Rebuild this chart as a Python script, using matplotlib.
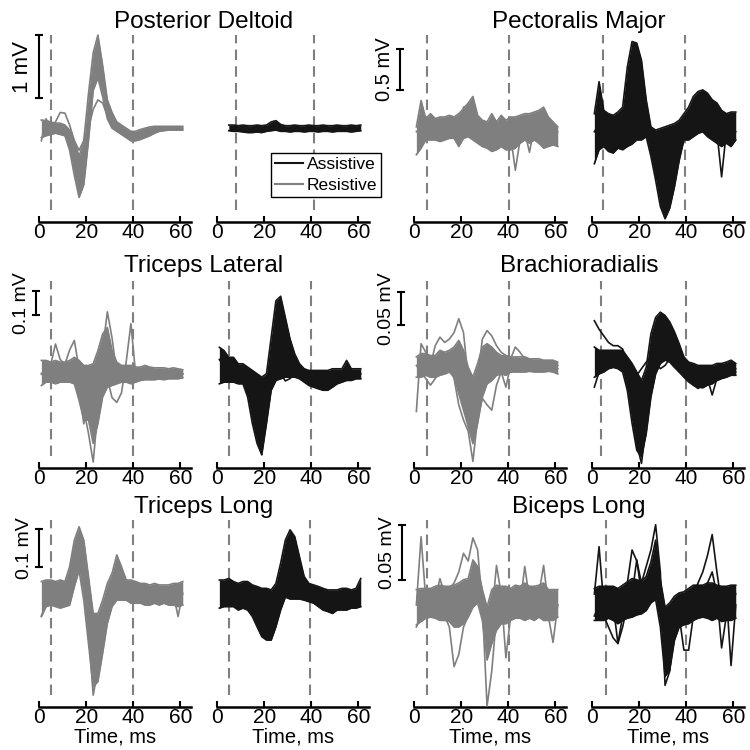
import matplotlib.pyplot as plt
from matplotlib.lines import Line2D

plt.rcParams['font.family'] = ['Liberation Sans', 'DejaVu Sans']

nan = float('nan')

# sample times, ms
t_ms = [1, 3, 5, 7, 9, 11, 13, 15, 17, 19, 21, 23, 25, 27, 29, 31,
        33, 35, 37, 39, 41, 43, 45, 47, 49, 51, 53, 55, 57, 59, 61]

muscles = ['Posterior Deltoid', 'Pectoralis Major', 'Triceps Lateral',
           'Brachioradialis', 'Triceps Long', 'Biceps Long']
bar_mv = [1, 0.5, 0.1, 0.05, 0.1, 0.05]
bar_text = ['1 mV', '0.5 mV', '0.1 mV', '0.05 mV', '0.1 mV', '0.05 mV']

# envelopes of the overlaid traces (mV) + a few stray traces
# Posterior Deltoid
pd_res_hi = [0.13, 0.12, 0.1, 0.08, 0.08, 0.05, -0.03, -0.2, -0.45, -0.2, 0.55, 1.2, 1.48, 1.0, 0.45, 0.25,
             0.1, 0.05, 0.0, -0.05, -0.05, -0.02, 0.0, 0.02, 0.03, 0.03, 0.03, 0.03, 0.03, 0.03, 0.03]
pd_res_lo = [-0.15, -0.12, -0.1, -0.08, -0.1, -0.12, -0.35, -0.75, -1.1, -0.9, -0.2, 0.6, 0.8, 0.5, 0.15, 0.0,
             -0.05, -0.1, -0.15, -0.2, -0.2, -0.18, -0.15, -0.12, -0.08, -0.05, -0.04, -0.03, -0.03, -0.03, -0.03]
pd_res_x1 = [-0.2, 0.15, 0.0, 0.1, 0.25, 0.24, 0.05, -0.2, -0.35, -0.2, 0.0, 0.3, 0.45, 0.4, 0.2, 0.08,
             0.0, -0.05, -0.1, -0.15, -0.12, -0.05, -0.02, 0.0, 0.0, 0.0, 0.0, 0.0, 0.0, 0.0, 0.0]
pd_ast_hi = [nan, nan, 0.05, 0.05, 0.04, 0.05, 0.04, 0.04, 0.05, 0.04, 0.05, 0.1, 0.12, 0.06, 0.04, 0.04,
             0.05, 0.04, 0.04, 0.05, 0.04, 0.04, 0.05, 0.04, 0.04, 0.05, 0.04, 0.04, 0.05, 0.04, 0.05]
pd_ast_lo = [nan, nan, -0.04, -0.05, -0.05, -0.06, -0.07, -0.07, -0.06, -0.07, -0.05, -0.04, -0.03, -0.05, -0.05, -0.06,
             -0.05, -0.05, -0.06, -0.05, -0.05, -0.06, -0.05, -0.05, -0.06, -0.05, -0.05, -0.05, -0.06, -0.05, -0.04]

# Pectoralis Major
pm_res_hi = [0.06, 0.38, 0.16, 0.22, 0.16, 0.18, 0.18, 0.2, 0.18, 0.22, 0.28, 0.35, 0.43, 0.2, 0.14, 0.12,
             0.22, 0.12, 0.2, 0.14, 0.18, 0.18, 0.2, 0.22, 0.22, 0.24, 0.26, 0.3, 0.18, 0.12, 0.06]
pm_res_lo = [-0.28, -0.2, -0.1, -0.1, -0.1, -0.12, -0.1, -0.08, -0.08, -0.18, -0.08, -0.06, -0.1, -0.14, -0.18, -0.2,
             -0.24, -0.22, -0.18, -0.22, -0.22, -0.2, -0.14, -0.1, -0.14, -0.1, -0.14, -0.2, -0.18, -0.16, -0.18]
pm_res_x1 = [0.0, 0.05, 0.0, 0.05, 0.0, 0.02, 0.0, 0.05, 0.0, -0.05, 0.3, 0.32, 0.1, 0.0, -0.05, -0.1,
             -0.05, -0.1, 0.0, -0.1, -0.05, -0.47, -0.1, 0.0, -0.25, 0.05, 0.0, 0.05, 0.0, -0.05, 0.0]
pm_ast_hi = [0.22, 0.61, 0.26, 0.22, 0.2, 0.24, 0.3, 0.79, 1.1, 1.08, 0.87, 0.39, 0.06, 0.02, 0.04, 0.06,
             0.08, 0.1, 0.14, 0.22, 0.3, 0.43, 0.49, 0.51, 0.47, 0.39, 0.35, 0.26, 0.22, 0.24, 0.24]
pm_ast_lo = [-0.39, -0.22, -0.18, -0.24, -0.26, -0.2, -0.22, -0.18, -0.15, -0.1, -0.1, -0.06, -0.3, -0.59, -0.91, -1.06,
             -0.93, -0.67, -0.35, -0.1, -0.1, -0.06, -0.02, 0.0, -0.06, -0.1, -0.14, -0.18, -0.14, -0.18, -0.1]
pm_ast_x1 = [0.0, 0.1, 0.0, 0.05, 0.0, -0.1, 0.0, 0.4, 0.6, 0.5, 0.3, 0.0, -0.2, -0.4, -0.6, -0.7,
             -0.5, -0.2, 0.0, 0.1, 0.2, 0.3, 0.35, 0.3, 0.2, 0.1, 0.0, -0.55, 0.0, 0.05, 0.0]

# Triceps Lateral
tl_res_hi = [0.056, 0.056, 0.049, 0.056, 0.049, 0.049, 0.056, 0.069, 0.056, 0.035, 0.035, 0.042, 0.097, 0.167, 0.194, 0.097,
             0.049, 0.035, 0.035, 0.035, 0.028, 0.028, 0.035, 0.028, 0.025, 0.025, 0.025, 0.021, 0.025, 0.021, 0.017]
tl_res_lo = [-0.049, -0.035, -0.035, -0.042, -0.035, -0.035, -0.035, -0.042, -0.111, -0.194, -0.194, -0.292, -0.208, -0.097, -0.056, -0.049,
             -0.042, -0.035, -0.035, -0.042, -0.035, -0.028, -0.025, -0.025, -0.025, -0.022, -0.025, -0.021, -0.021, -0.021, -0.017]
tl_res_x1 = [0.0, -0.02, 0.04, 0.125, 0.06, 0.04, 0.1, 0.14, 0.02, -0.15, -0.25, -0.37, -0.15, 0.1, 0.26, 0.15,
             0.0, 0.02, 0.01, 0.0, 0.0, 0.0, 0.0, 0.0, 0.0, 0.0, 0.0, 0.0, 0.0, 0.0, 0.0]
tl_res_x2 = [0.0, 0.02, 0.0, 0.01, 0.0, 0.0, 0.0, 0.0, -0.05, -0.21, -0.1, -0.15, -0.05, 0.05, -0.02, -0.1,
             -0.12, -0.08, 0.05, 0.21, 0.0, 0.0, 0.0, 0.0, 0.0, 0.0, 0.0, 0.0, 0.0, 0.0, 0.0]
tl_ast_hi = [0.111, 0.097, 0.069, 0.069, 0.042, 0.042, 0.028, 0.014, 0.0, -0.014, 0.0, 0.153, 0.306, 0.325, 0.236, 0.146,
             0.083, 0.042, 0.021, 0.014, 0.014, 0.014, 0.014, 0.014, 0.021, 0.021, 0.021, 0.056, 0.021, 0.021, 0.021]
tl_ast_lo = [-0.042, -0.035, -0.035, -0.035, -0.042, -0.042, -0.097, -0.208, -0.292, -0.34, -0.208, -0.069, -0.028, -0.021, -0.014, -0.014,
             -0.014, -0.021, -0.035, -0.049, -0.056, -0.063, -0.069, -0.069, -0.056, -0.042, -0.035, -0.028, -0.028, -0.021, -0.021]
tl_ast_x1 = [0.06, 0.03, 0.0, 0.03, 0.0, -0.02, -0.03, -0.05, -0.06, -0.04, -0.02, 0.02, 0.04, 0.0, -0.03, -0.02,
             0.0, 0.0, -0.01, -0.02, -0.03, -0.04, -0.05, -0.05, -0.04, -0.03, -0.02, -0.01, -0.01, 0.0, 0.0]

# Brachioradialis
br_res_hi = [0.013, 0.018, 0.018, 0.015, 0.015, 0.023, 0.02, 0.023, 0.028, 0.038, 0.023, -0.003, -0.018, 0.003, 0.028, 0.033,
             0.028, 0.02, 0.015, 0.015, 0.013, 0.013, 0.013, 0.013, 0.01, 0.01, 0.01, 0.008, 0.008, 0.008, 0.005]
br_res_lo = [-0.018, -0.018, -0.015, -0.018, -0.018, -0.015, -0.013, -0.01, -0.018, -0.043, -0.068, -0.093, -0.119, -0.088, -0.048, -0.028,
             -0.023, -0.015, -0.013, -0.015, -0.01, -0.01, -0.01, -0.01, -0.009, -0.01, -0.01, -0.01, -0.009, -0.01, -0.013]
br_res_x1 = [-0.07, 0.033, 0.02, 0.0, 0.03, 0.043, 0.035, 0.04, 0.05, 0.071, 0.05, -0.02, -0.08, -0.02, 0.04, 0.053,
             0.045, 0.03, 0.02, 0.015, 0.01, 0.028, 0.02, 0.01, 0.01, 0.005, 0.005, 0.005, 0.0, 0.005, 0.0]
br_res_x2 = [0.0, -0.01, -0.02, -0.03, -0.02, -0.01, 0.0, 0.0, -0.02, -0.06, -0.083, -0.1, -0.146, -0.08, -0.05, -0.06,
             -0.068, -0.03, -0.01, -0.033, 0.0, -0.005, -0.01, -0.005, 0.0, -0.005, 0.0, 0.0, -0.005, 0.0, -0.005]
br_ast_hi = [0.028, 0.023, 0.023, 0.023, 0.023, 0.023, 0.023, 0.013, 0.003, -0.01, -0.023, -0.003, 0.048, 0.073, 0.081, 0.076,
             0.066, 0.051, 0.033, 0.013, 0.005, 0.003, 0.0, 0.0, 0.0, 0.0, 0.003, 0.003, 0.005, 0.008, 0.003]
br_ast_lo = [-0.018, -0.013, -0.01, -0.005, -0.003, -0.005, -0.01, -0.038, -0.088, -0.129, -0.139, -0.104, -0.048, -0.013, 0.003, 0.008,
             0.005, -0.003, -0.01, -0.018, -0.025, -0.03, -0.033, -0.034, -0.03, -0.028, -0.023, -0.02, -0.018, -0.015, -0.015]
br_ast_x1 = [0.068, 0.055, 0.045, 0.035, 0.03, 0.03, 0.025, 0.0, -0.06, -0.12, -0.149, -0.09, -0.01, 0.04, 0.06, 0.05,
             0.03, 0.015, 0.0, -0.01, -0.02, -0.03, -0.035, -0.03, -0.02, -0.045, -0.02, -0.015, -0.01, -0.01, -0.005]
br_ast_x2 = [-0.033, -0.01, 0.0, 0.01, 0.005, 0.0, 0.0, -0.01, -0.02, -0.015, -0.005, 0.005, 0.01, 0.005, -0.005, 0.0,
             0.01, 0.0, -0.01, -0.015, -0.02, -0.025, -0.03, -0.03, -0.025, -0.02, -0.015, -0.01, -0.01, -0.01, -0.01]

# Triceps Long
tlo_res_hi = [0.031, 0.035, 0.035, 0.031, 0.035, 0.031, 0.07, 0.14, 0.175, 0.14, 0.044, -0.053, -0.053, -0.018, 0.026, 0.053,
              0.101, 0.07, 0.035, 0.035, 0.031, 0.026, 0.026, 0.022, 0.026, 0.022, 0.022, 0.022, 0.026, 0.026, 0.031]
tlo_res_lo = [-0.061, -0.035, -0.031, -0.035, -0.039, -0.035, -0.031, 0.018, 0.06, -0.018, -0.132, -0.246, -0.232, -0.158, -0.079, -0.035,
              -0.018, -0.018, -0.018, -0.026, -0.026, -0.026, -0.031, -0.031, -0.026, -0.031, -0.026, -0.031, -0.031, -0.035, -0.031]
tlo_res_x1 = [-0.06, -0.03, 0.0, 0.02, 0.0, 0.01, 0.05, 0.12, 0.16, 0.1, -0.1, -0.268, -0.2, -0.1, -0.03, 0.0,
              0.08, 0.05, 0.02, 0.0, 0.0, 0.0, 0.0, 0.0, 0.0, 0.0, 0.0, 0.0, 0.0, -0.061, 0.0]
tlo_ast_hi = [0.035, 0.035, 0.039, 0.031, 0.026, 0.031, 0.031, 0.022, 0.018, 0.013, 0.013, 0.009, 0.026, 0.079, 0.14, 0.167,
              0.149, 0.096, 0.044, 0.026, 0.022, 0.018, 0.013, 0.009, 0.009, 0.009, 0.013, 0.013, 0.009, 0.013, 0.039]
tlo_ast_lo = [-0.039, -0.035, -0.035, -0.035, -0.044, -0.039, -0.044, -0.061, -0.088, -0.114, -0.123, -0.123, -0.088, -0.044, -0.01, -0.015,
              -0.015, -0.015, -0.018, -0.022, -0.026, -0.035, -0.044, -0.048, -0.053, -0.044, -0.044, -0.044, -0.039, -0.039, -0.035]

# Biceps Long
bl_res_hi = [0.014, 0.015, 0.015, 0.015, 0.017, 0.018, 0.017, 0.017, 0.018, 0.02, 0.023, 0.024, 0.041, 0.035, 0.014, -0.002,
             0.014, 0.018, 0.017, 0.017, 0.015, 0.018, 0.017, 0.02, 0.017, 0.017, 0.018, 0.02, 0.014, 0.014, 0.014]
bl_res_lo = [-0.018, -0.015, -0.012, -0.011, -0.012, -0.014, -0.014, -0.015, -0.02, -0.02, -0.017, -0.011, -0.002, 0.002, -0.014, -0.05,
             -0.035, -0.023, -0.017, -0.017, -0.014, -0.012, -0.012, -0.014, -0.012, -0.014, -0.011, -0.014, -0.014, -0.014, -0.011]
bl_res_x1 = [0.0, 0.062, 0.005, 0.01, 0.005, 0.024, 0.01, 0.015, 0.02, 0.03, 0.047, 0.04, 0.061, 0.05, 0.0, -0.092,
             -0.06, -0.01, 0.0, 0.005, 0.01, 0.005, 0.0, 0.035, 0.005, 0.0, 0.01, 0.036, 0.0, 0.005, 0.0]
bl_res_x2 = [-0.02, -0.01, 0.0, -0.01, -0.005, 0.0, -0.01, -0.02, -0.056, -0.045, -0.02, -0.01, 0.01, 0.02, 0.0, -0.03,
             -0.01, 0.036, 0.01, -0.048, -0.01, 0.0, 0.005, 0.0, -0.005, 0.0, 0.005, 0.0, -0.01, -0.034, 0.0]
bl_ast_hi = [0.015, 0.017, 0.017, 0.017, 0.017, 0.015, 0.018, 0.021, 0.024, 0.023, 0.021, 0.026, 0.039, 0.059, 0.023, -0.002,
             0.002, 0.008, 0.011, 0.012, 0.015, 0.018, 0.018, 0.018, 0.02, 0.02, 0.018, 0.017, 0.017, 0.018, 0.018]
bl_ast_lo = [-0.014, -0.014, -0.014, -0.012, -0.014, -0.017, -0.014, -0.012, -0.011, -0.009, -0.008, -0.005, 0.002, 0.005, -0.02, -0.065,
             -0.059, -0.032, -0.02, -0.018, -0.017, -0.014, -0.012, -0.011, -0.012, -0.014, -0.012, -0.015, -0.014, -0.014, -0.012]
bl_ast_x1 = [0.01, 0.053, 0.0, 0.01, 0.0, -0.035, -0.01, 0.02, 0.05, 0.04, 0.02, 0.035, 0.05, 0.073, 0.03, -0.073,
             -0.06, -0.01, 0.01, 0.0, 0.005, 0.01, 0.02, 0.03, 0.045, 0.064, 0.03, 0.0, 0.01, -0.055, 0.0]
bl_ast_x2 = [-0.01, 0.0, -0.01, -0.02, -0.03, -0.035, -0.02, 0.0, 0.01, 0.041, 0.01, 0.0, 0.02, 0.04, 0.0, -0.05,
             -0.04, -0.02, -0.01, -0.041, -0.041, -0.01, 0.0, 0.01, 0.02, 0.03, 0.01, -0.039, -0.01, 0.0, 0.01]

res_hi = [pd_res_hi, pm_res_hi, tl_res_hi, br_res_hi, tlo_res_hi, bl_res_hi]
res_lo = [pd_res_lo, pm_res_lo, tl_res_lo, br_res_lo, tlo_res_lo, bl_res_lo]
res_extra = [[pd_res_x1], [pm_res_x1], [tl_res_x1, tl_res_x2], [br_res_x1, br_res_x2], [tlo_res_x1], [bl_res_x1, bl_res_x2]]
ast_hi = [pd_ast_hi, pm_ast_hi, tl_ast_hi, br_ast_hi, tlo_ast_hi, bl_ast_hi]
ast_lo = [pd_ast_lo, pm_ast_lo, tl_ast_lo, br_ast_lo, tlo_ast_lo, bl_ast_lo]
ast_extra = [[], [pm_ast_x1], [tl_ast_x1], [br_ast_x1, br_ast_x2], [], [bl_ast_x1, bl_ast_x2]]

# layout (pixels on a 750 x 750 canvas)
W = 750.0
col_x = [39, 217, 414, 592]
row_axis = [222, 468, 707]
ax_w, ax_h = 152, 192
ylims = [(-1.49, 1.56), (-1.10, 1.24), (-0.395, 0.41), (-0.156, 0.136), (-0.299, 0.206), (-0.0927, 0.0818)]
dash_t = [((5, 40), (8, 41)), ((5.7, 40.5), (4.8, 39.6)), ((5, 40), (5, 40)),
          ((5.7, 40.5), (4, 40)), ((5, 40), (5, 39.5)), ((5.7, 40.5), (6, 40))]
bar_pos = [(0, 0.476), (-6, 0.508), (-1.3, 0.247), (-5.5, 0.062), (0, 0.069), (-5.1, 0.0227)]
bar_fs = [16, 14.5, 14, 14, 14, 14]
title_y = [28, 272, 513]

gray = '#7f7f7f'
black = '#151515'

fig = plt.figure(figsize=(7.5, 7.5), dpi=100)

for r in range(3):
    for c in range(4):
        m = r * 2 + c // 2
        resist = (c % 2 == 0)
        ax = fig.add_axes([col_x[c] / W, (W - row_axis[r]) / W, ax_w / W, ax_h / W])
        if resist:
            hi, lo, extra, col = res_hi[m], res_lo[m], res_extra[m], gray
        else:
            hi, lo, extra, col = ast_hi[m], ast_lo[m], ast_extra[m], black

        for x in dash_t[m][c % 2]:
            ax.axvline(x, ymin=0.06, ymax=0.975, color=gray, lw=1.5, ls=(0, (5, 3)), zorder=1)

        ax.fill_between(t_ms, lo, hi, color=col, lw=0, zorder=2)
        ax.plot(t_ms, hi, color=col, lw=1.2, zorder=3)
        ax.plot(t_ms, lo, color=col, lw=1.2, zorder=3)
        for tr in extra:
            ax.plot(t_ms, tr, color=col, lw=1.2, zorder=3)

        ax.set_xlim(0, 64.5)
        ax.set_ylim(ylims[m])
        for s in ['top', 'left', 'right']:
            ax.spines[s].set_visible(False)
        ax.spines['bottom'].set_linewidth(1.8)
        ax.set_yticks([])
        ax.set_xticks([0, 20, 40, 60])
        ax.tick_params(axis='x', direction='in', length=4, width=1.5, labelsize=15, pad=1)
        ax.patch.set_visible(False)

        if r == 2:
            ax.set_xlabel('Time, ms', fontsize=14.5, labelpad=0)

        if resist:
            x0, y0 = bar_pos[m]
            y1 = y0 + bar_mv[m]
            ax.plot([x0, x0], [y0, y1], color='k', lw=1.5, clip_on=False)
            ax.plot([x0, x0], [y0, y1], ls='none', marker='_', ms=6, mew=1.5, color='k', clip_on=False)
            ax.annotate(bar_text[m], xy=(x0, (y0 + y1) / 2), xytext=(-4, 0), textcoords='offset points',
                        ha='right', va='center', rotation=90, fontsize=bar_fs[m], annotation_clip=False)

    # muscle names over each pair
    for p in range(2):
        cx = (col_x[2 * p] + col_x[2 * p + 1] + ax_w) / 2
        fig.text(cx / W, 1 - title_y[r] / W, muscles[r * 2 + p], ha='center', va='baseline', fontsize=17.5)

handles = [Line2D([], [], color=black, lw=1.5, label='Assistive'),
           Line2D([], [], color=gray, lw=1.5, label='Resistive')]
leg = fig.legend(handles=handles, loc='upper left', bbox_to_anchor=(271 / W, 1 - 153 / W), fontsize=12.5,
                 frameon=True, fancybox=False, edgecolor='k', framealpha=1, borderaxespad=0,
                 handlelength=1.6, handletextpad=0.2, borderpad=0.25, labelspacing=0.3)
leg.get_frame().set_linewidth(1.0)

plt.savefig('out.png', dpi=100)
